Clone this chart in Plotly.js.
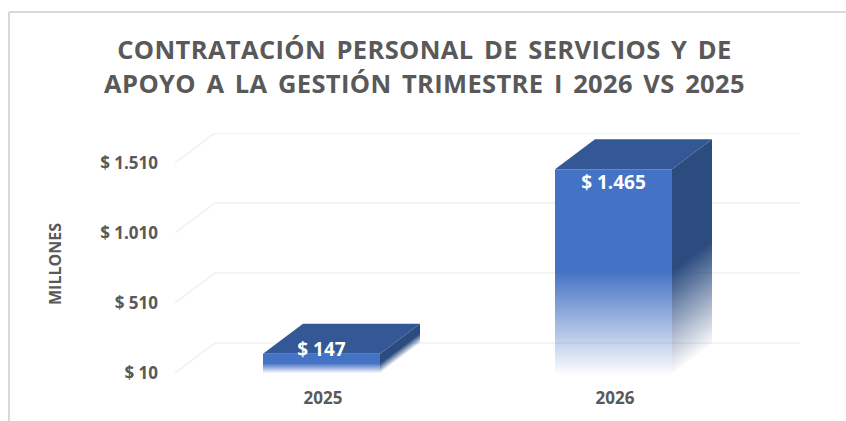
<!DOCTYPE html>
<html><head><meta charset="utf-8">
<script src="https://cdn.plot.ly/plotly-3.0.1.min.js"></script>
<style>
html,body{margin:0;padding:0;background:#fff;overflow:hidden}
#chart{width:846px;height:421px}
.gtitle{word-spacing:3.5px;letter-spacing:0.35px}
</style></head><body><div id="chart"></div>
<script>
var categories = ['2025','2026'];
var values = [147,1465];
var labelShift = [18,-107];
var tickValues = [10,510,1010,1510];
var tickLabels = ['$ 10','$ 510','$ 1.010','$ 1.510'];
var titleText = 'CONTRATACIÓN PERSONAL DE SERVICIOS Y DE<br>APOYO A LA GESTIÓN TRIMESTRE I 2026 VS 2025';
var axisTitle = 'MILLONES';

var W=846,H=421,L=175,R=800,T=133,Zero=373,B=395;
var catPx=292, c0=321.5;
var xMin=(L-c0)/catPx, xMax=(R-c0)/catPx;
var base=10, yPerPx=500/70, yMax=base+(Zero-T)*yPerPx, yMin=base-(B-Zero)*yPerPx;
var half=58.5/catPx, dx=40/catPx, dy=30*yPerPx;
var FRONT='#4472c4', TOP='#345795', SIDE='#2c4c80';
function rgba(hex,a){var n=parseInt(hex.slice(1),16);return 'rgba('+(n>>16)+','+((n>>8)&255)+','+(n&255)+','+a+')';}
function fade(hex){return [[0,rgba(hex,0.03)],[0.5,rgba(hex,1)],[1,rgba(hex,1)]];}
function face(xs,ys,fill,grad){
  var t={x:xs,y:ys,mode:'lines',line:{width:0},fill:'toself',hoverinfo:'skip',showlegend:false,type:'scatter'};
  if(grad) t.fillgradient=grad; else t.fillcolor=fill;
  return t;
}
var data=[];
tickValues.forEach(function(v){
  data.push({x:[xMin,xMin+dx,xMax],y:[v,v+dy,v+dy],mode:'lines',line:{color:'#f0f0f0',width:1.5},hoverinfo:'skip',showlegend:false,type:'scatter'});
});
values.forEach(function(v,i){
  var l=i-half,r=i+half;
  data.push(face([l,l+dx,r+dx,r,l],[v,v+dy,v+dy,v,v],TOP));
  var n=40;
  for(var k=0;k<n;k++){
    var f0=k/n,f1=(k+1)/n;
    var fm=(f0+f1)/2;
    data.push(face([r+dx*f0,r+dx*f1,r+dx*f1,r+dx*f0,r+dx*f0],
      [v+dy*f0,v+dy*f1,base+dy*f1,base+dy*f0,v+dy*f0],null,
      {type:'vertical',start:base+dy*fm,stop:v+dy*fm,colorscale:fade(SIDE)}));
  }
  data.push(face([l,r,r,l,l],[v,v,base,base,v],null,
    {type:'vertical',start:base,stop:v,colorscale:fade(FRONT)}));
});
data.push({type:'scatter',mode:'text',x:[0,1],y:values.map(function(v,i){return v+labelShift[i];}),
  text:values.map(function(v){return '$ '+String(v).replace(/\B(?=(\d{3})+$)/g,'.');}),
  textposition:'middle center',textfont:{family:'Open Sans',size:19,color:'#ffffff',weight:700},
  hoverinfo:'skip',showlegend:false});

var layout={
  width:W,height:H,margin:{l:L,r:W-R,t:T,b:H-B},
  paper_bgcolor:'#fff',plot_bgcolor:'rgba(0,0,0,0)',showlegend:false,
  title:{text:titleText,x:424.5/W,xref:'container',xanchor:'center',y:0.859,yref:'container',yanchor:'bottom',
    font:{family:'Open Sans',size:25.5,color:'#595959',weight:700}},
  xaxis:{range:[xMin,xMax],tickmode:'array',tickvals:[1.5/catPx,1+1.5/catPx],ticktext:categories,showgrid:false,zeroline:false,showline:false,ticks:'',
    fixedrange:true,tickfont:{family:'Open Sans',size:17,color:'#595959',weight:700},ticklabelstandoff:-9},
  yaxis:{range:[yMin,yMax],tickmode:'array',tickvals:tickValues,ticktext:tickLabels,showgrid:false,zeroline:false,showline:false,ticks:'',
    fixedrange:true,tickfont:{family:'Open Sans',size:17,color:'#595959',weight:700},ticklabelstandoff:16,
    title:{text:axisTitle,standoff:34,font:{family:'Open Sans',size:16,color:'#595959',weight:700}}},
  shapes:[
    {type:'line',xref:'paper',yref:'paper',x0:(9-L)/(R-L),x1:(9-L)/(R-L),y0:(B-12)/(B-T),y1:(B-421)/(B-T),line:{color:'#d9d9d9',width:2}},
    {type:'line',xref:'paper',yref:'paper',x0:(9-L)/(R-L),x1:(846-L)/(R-L),y0:(B-12)/(B-T),y1:(B-12)/(B-T),line:{color:'#d9d9d9',width:2}}
  ]
};
Plotly.newPlot('chart',data,layout,{displayModeBar:false,staticPlot:true});
</script></body></html>
